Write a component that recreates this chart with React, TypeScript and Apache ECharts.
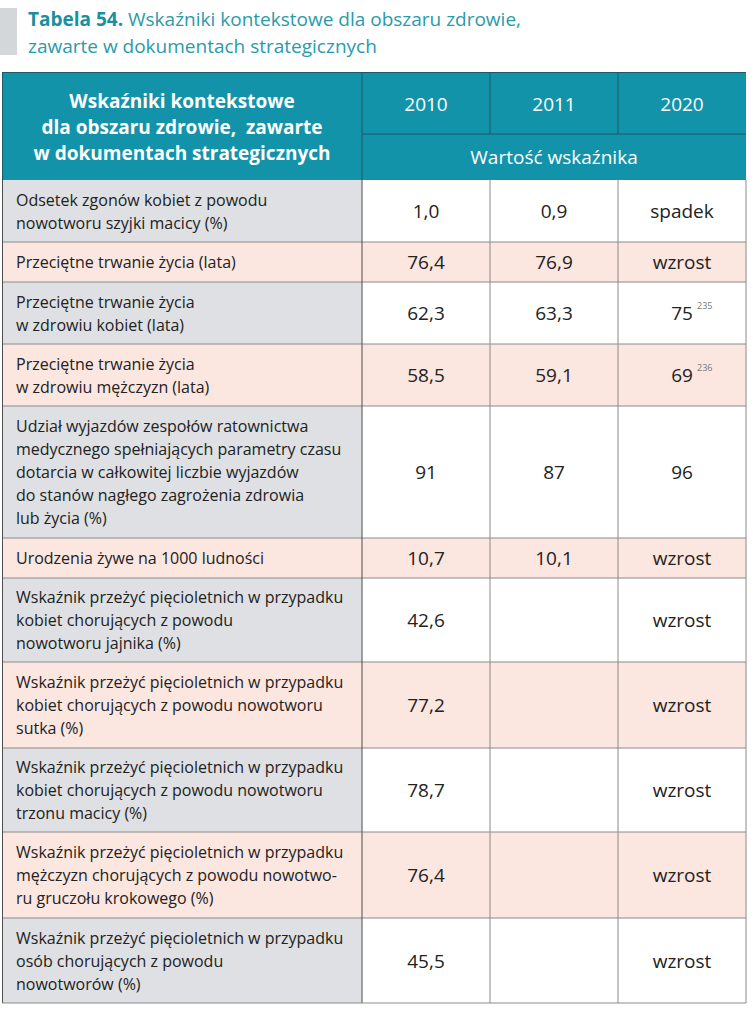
import React, { useEffect, useRef } from "react";
import * as echarts from "echarts";

const titleBold = "Tabela 54.";
const titleRest = " Wskaźniki kontekstowe dla obszaru zdrowie,";
const titleLine2 = "zawarte w dokumentach strategicznych";
const headerLeft = "Wskaźniki kontekstowe\ndla obszaru zdrowie,  zawarte\nw dokumentach strategicznych";
const years = ["2010", "2011", "2020"];
const subHeader = "Wartość wskaźnika";

const indicators = [
  "Odsetek zgonów kobiet z powodu\nnowotworu szyjki macicy (%)",
  "Przeciętne trwanie życia (lata)",
  "Przeciętne trwanie życia\nw zdrowiu kobiet (lata)",
  "Przeciętne trwanie życia\nw zdrowiu mężczyzn (lata)",
  "Udział wyjazdów zespołów ratownictwa\nmedycznego spełniających parametry czasu\ndotarcia w całkowitej liczbie wyjazdów\ndo stanów nagłego zagrożenia zdrowia\nlub życia (%)",
  "Urodzenia żywe na 1000 ludności",
  "Wskaźnik przeżyć pięcioletnich w przypadku\nkobiet chorujących z powodu\nnowotworu jajnika (%)",
  "Wskaźnik przeżyć pięcioletnich w przypadku\nkobiet chorujących z powodu nowotworu\nsutka (%)",
  "Wskaźnik przeżyć pięcioletnich w przypadku\nkobiet chorujących z powodu nowotworu\ntrzonu macicy (%)",
  "Wskaźnik przeżyć pięcioletnich w przypadku\nmężczyzn chorujących z powodu nowotwo-\nru gruczołu krokowego (%)",
  "Wskaźnik przeżyć pięcioletnich w przypadku\nosób chorujących z powodu\nnowotworów (%)",
];
const values2010 = ["1,0", "76,4", "62,3", "58,5", "91", "10,7", "42,6", "77,2", "78,7", "76,4", "45,5"];
const values2011 = ["0,9", "76,9", "63,3", "59,1", "87", "10,1", "", "", "", "", ""];
const values2020 = ["spadek", "wzrost", "75", "69", "96", "wzrost", "wzrost", "wzrost", "wzrost", "wzrost", "wzrost"];
const footnotes2020 = ["", "", "235", "236", "", "", "", "", "", "", ""];

// layout
const COLS = [2, 362, 490, 618, 746];
const HEAD_TOP = 72;
const HEAD_MID = 134;
const HEAD_BOT = 180;
const ROWS = [180, 242, 282, 344, 406, 538, 578, 662, 748, 832, 918, 1003];

const FONT = "'Open Sans', 'Noto Sans', sans-serif";
const TEAL = "#1393a9";
const TEAL_LINE = "#1f5866";
const GRAY_CELL = "#dee0e3";
const PINK = "#fbe6e0";
const TEXT = "#222222";
const LINE = "#8a8a8a";
const DARK = "#4d4d4d";

export default function App() {
  const ref = useRef<HTMLDivElement>(null);
  useEffect(() => {
    if (!ref.current) return;
    const chart = echarts.init(ref.current, null, { renderer: "svg" });
    const els: any[] = [];

    // title
    els.push({ type: "rect", shape: { x: 0, y: 8, width: 17, height: 47 }, style: { fill: "#d4d7da" } });
    els.push({
      type: "text",
      style: {
        x: 28, y: 19, text: `{b|${titleBold}}{n|${titleRest}}`, verticalAlign: "middle",
        rich: {
          b: { fontFamily: FONT, fontSize: 19, fontWeight: "bold", fill: "#1a8fa0" },
          n: { fontFamily: FONT, fontSize: 19, fill: "#2a9aab" },
        },
      },
    });
    els.push({
      type: "text",
      style: { x: 28, y: 46, text: titleLine2, verticalAlign: "middle", fontFamily: FONT, fontSize: 19, fill: "#2a9aab" },
    });

    // header
    els.push({ type: "rect", shape: { x: COLS[0], y: HEAD_TOP, width: COLS[4] - COLS[0], height: HEAD_BOT - HEAD_TOP }, style: { fill: TEAL } });
    els.push({
      type: "text",
      style: {
        x: (COLS[0] + COLS[1]) / 2, y: (HEAD_TOP + HEAD_BOT) / 2 + 1, text: headerLeft, align: "center", verticalAlign: "middle",
        fontFamily: FONT, fontSize: 19, fontWeight: "bold", fill: "#ffffff", lineHeight: 26,
      },
    });
    years.forEach((y, i) => {
      els.push({
        type: "text",
        style: { x: (COLS[i + 1] + COLS[i + 2]) / 2, y: (HEAD_TOP + HEAD_MID) / 2 + 1, text: y, align: "center", verticalAlign: "middle", fontFamily: FONT, fontSize: 19, fill: "#ffffff" },
      });
    });
    els.push({
      type: "text",
      style: { x: (COLS[1] + COLS[4]) / 2, y: (HEAD_MID + HEAD_BOT) / 2, text: subHeader, align: "center", verticalAlign: "middle", fontFamily: FONT, fontSize: 19, fill: "#ffffff" },
    });
    const hl = (x1: number, y1: number, x2: number, y2: number, c: string, w = 1) =>
      els.push({ type: "line", shape: { x1, y1, x2, y2 }, style: { stroke: c, lineWidth: w } });
    hl(COLS[1], HEAD_TOP, COLS[1], HEAD_BOT, TEAL_LINE);
    hl(COLS[2], HEAD_TOP, COLS[2], HEAD_MID, TEAL_LINE);
    hl(COLS[3], HEAD_TOP, COLS[3], HEAD_MID, TEAL_LINE);
    hl(COLS[1], HEAD_MID, COLS[4], HEAD_MID, TEAL_LINE);
    hl(COLS[0], HEAD_TOP + 0.5, COLS[4], HEAD_TOP + 0.5, TEAL_LINE);
    hl(COLS[0] + 0.5, HEAD_TOP, COLS[0] + 0.5, HEAD_BOT, TEAL_LINE);

    // body
    indicators.forEach((label, r) => {
      const y0 = ROWS[r];
      const y1 = ROWS[r + 1];
      const h = y1 - y0;
      const cy = (y0 + y1) / 2;
      const even = r % 2 === 1;
      els.push({ type: "rect", shape: { x: COLS[0], y: y0, width: COLS[1] - COLS[0], height: h }, style: { fill: even ? PINK : GRAY_CELL } });
      els.push({ type: "rect", shape: { x: COLS[1], y: y0, width: COLS[4] - COLS[1], height: h }, style: { fill: even ? PINK : "#ffffff" } });
      els.push({
        type: "text",
        style: { x: 16, y: cy, text: label, verticalAlign: "middle", fontFamily: FONT, fontSize: 16, fill: TEXT, lineHeight: 23 },
      });
      const vals = [values2010[r], values2011[r], values2020[r]];
      vals.forEach((v, c) => {
        if (!v) return;
        const cx = (COLS[c + 1] + COLS[c + 2]) / 2;
        els.push({
          type: "text",
          style: { x: cx, y: cy, text: v, align: "center", verticalAlign: "middle", fontFamily: FONT, fontSize: 19, fill: TEXT },
        });
        if (c === 2 && footnotes2020[r]) {
          els.push({
            type: "text",
            style: { x: cx + 15, y: cy - 8, text: footnotes2020[r], align: "left", verticalAlign: "middle", fontFamily: FONT, fontSize: 9, fill: "#777777" },
          });
        }
      });
    });

    // grid lines
    for (let r = 1; r < ROWS.length - 1; r++) hl(COLS[0], ROWS[r], COLS[4], ROWS[r], LINE);
    hl(COLS[2], ROWS[0], COLS[2], ROWS[ROWS.length - 1], LINE);
    hl(COLS[3], ROWS[0], COLS[3], ROWS[ROWS.length - 1], LINE);
    hl(COLS[1], ROWS[0], COLS[1], ROWS[ROWS.length - 1], DARK);
    hl(COLS[0] + 0.5, ROWS[0], COLS[0] + 0.5, ROWS[ROWS.length - 1], DARK);
    hl(COLS[4], ROWS[0], COLS[4], ROWS[ROWS.length - 1], LINE);
    hl(COLS[0], ROWS[ROWS.length - 1], COLS[4], ROWS[ROWS.length - 1], LINE);

    chart.setOption({ animation: false, graphic: { elements: els } });
    return () => chart.dispose();
  }, []);
  return <div ref={ref} style={{ position: "fixed", left: 0, top: 0, width: 753, height: 1013, background: "#ffffff" }} />;
}
